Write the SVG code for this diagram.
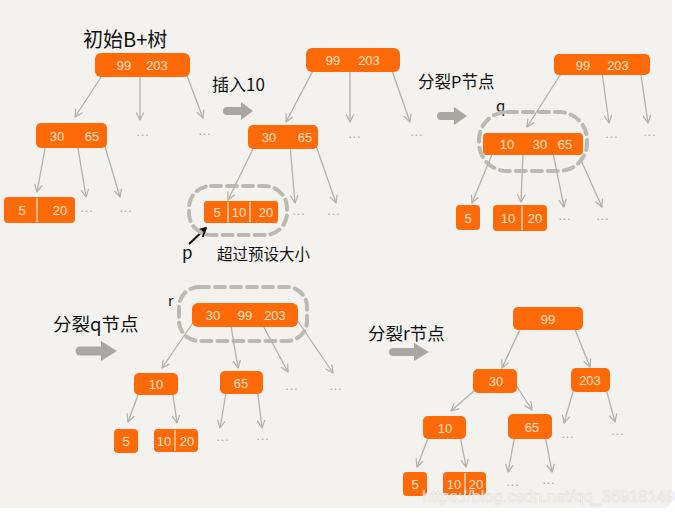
<svg xmlns="http://www.w3.org/2000/svg" width="675" height="516" viewBox="0 0 675 516">
<defs>
<marker id="ah" viewBox="0 0 10 10" refX="9" refY="5" markerWidth="9" markerHeight="9" markerUnits="userSpaceOnUse" orient="auto">
<path d="M1,1 L9,5 L1,9" fill="none" stroke="#b3b1ab" stroke-width="1.4" stroke-linecap="round" stroke-linejoin="round"/>
</marker>
<marker id="bh" viewBox="0 0 10 10" refX="9" refY="5" markerWidth="10" markerHeight="10" markerUnits="userSpaceOnUse" orient="auto">
<path d="M1,1 L9,5 L1,9" fill="none" stroke="#111" stroke-width="2" stroke-linecap="round" stroke-linejoin="round"/>
</marker>
</defs>
<style>
.n{fill:#fe6a08}
.t{font-family:"Liberation Sans","Noto Sans",sans-serif;font-size:13px;fill:#fde4cc;text-anchor:middle;dominant-baseline:central}
.d{stroke:#fde4cc;stroke-width:1.3}
.e{fill:none;stroke:#b3b1ab;stroke-width:1.3;marker-end:url(#ah)}
.dots{font-family:"Liberation Sans",sans-serif;font-size:12px;fill:#a9a7a1;text-anchor:middle;letter-spacing:1px}
.lb{font-family:"Noto Sans CJK SC","Noto Sans",sans-serif;fill:#111}
.dash{fill:none;stroke:#bcb9b2;stroke-width:4;stroke-dasharray:10 6;stroke-linecap:round}
.ga{fill:#a9a7a1}
</style>
<path d="M0,0 H672 V498 Q672,508 662,508 H0 Z" fill="#f3f2ee"/>

<!-- labels -->
<g id="labels">
<text class="lb" x="83" y="47" font-size="20">初始B+树</text>
<text class="lb" x="212" y="91" font-size="17">插入10</text>
<text class="lb" x="418" y="88" font-size="16.5">分裂P节点</text>
<text class="lb" x="496" y="112" font-size="15">q</text>
<text class="lb" x="182" y="259" font-size="17">p</text>
<text class="lb" x="217" y="260" font-size="15.5">超过预设大小</text>
<text class="lb" x="53" y="331" font-size="18.5">分裂q节点</text>
<text class="lb" x="168" y="306" font-size="14">r</text>
<text class="lb" x="368" y="340" font-size="17.5">分裂r节点</text>
<line x1="189" y1="244" x2="206" y2="228" stroke="#111" stroke-width="2" marker-end="url(#bh)"/>
</g>

<!-- big gray arrows -->
<g id="steps">
<line x1="227" y1="111" x2="243" y2="111" stroke="#a9a7a1" stroke-width="8" stroke-linecap="round"/>
<polygon class="ga" points="241,102 253,111 241,120"/>
<line x1="441" y1="116" x2="456" y2="116" stroke="#a9a7a1" stroke-width="8" stroke-linecap="round"/>
<polygon class="ga" points="454,107 467,116 454,125"/>
<line x1="80" y1="351" x2="103" y2="351" stroke="#a9a7a1" stroke-width="9" stroke-linecap="round"/>
<polygon class="ga" points="101,341 117,351 101,361"/>
<line x1="393" y1="352" x2="416" y2="352" stroke="#a9a7a1" stroke-width="8" stroke-linecap="round"/>
<polygon class="ga" points="414,343 429,352 414,361"/>
</g>

<!-- dashed highlights -->
<g id="highlights">
<rect class="dash" x="189" y="186" width="98" height="49" rx="22"/>
<rect class="dash" x="479" y="112" width="108" height="59" rx="28"/>
<rect class="dash" x="179" y="287" width="128" height="54" rx="20"/>
</g>

<!-- connectors -->
<g id="connectors">
<!-- tree 1 -->
<path class="e" d="M107,68 L75,117"/>
<path class="e" d="M140,68 L140,120"/>
<path class="e" d="M183,65 L203,118"/>
<path class="e" d="M46,143 L37,192"/>
<path class="e" d="M77,142 L86,197"/>
<path class="e" d="M103,140 L120,197"/>
<!-- tree 2 -->
<path class="e" d="M317,63 L286,122"/>
<path class="e" d="M350,67 L350,122"/>
<path class="e" d="M389,62 L410,122"/>
<path class="e" d="M255,145 L228,200"/>
<path class="e" d="M290,145 L295,203"/>
<path class="e" d="M315,143 L336,203"/>
<!-- tree 3 -->
<path class="e" d="M564,69 L527,127"/>
<path class="e" d="M602,72 L609,123"/>
<path class="e" d="M640,68 L648,123"/>
<path class="e" d="M493,152 L472,203"/>
<path class="e" d="M523,153 L521,202"/>
<path class="e" d="M553,153 L564,207"/>
<path class="e" d="M580,158 L602,207"/>
<!-- tree 4 -->
<path class="e" d="M197,317 L162,368"/>
<path class="e" d="M230,320 L238,368"/>
<path class="e" d="M260,320 L288,372"/>
<path class="e" d="M295,317 L333,373"/>
<path class="e" d="M138,395 L128,422"/>
<path class="e" d="M172,388 L177,423"/>
<path class="e" d="M227,387 L220,428"/>
<path class="e" d="M257,387 L262,428"/>
<!-- tree 5 -->
<path class="e" d="M523,323 L502,368"/>
<path class="e" d="M572,322 L590,367"/>
<path class="e" d="M475,390 L451,411"/>
<path class="e" d="M514,382 L532,410"/>
<path class="e" d="M575,385 L564,423"/>
<path class="e" d="M605,385 L615,422"/>
<path class="e" d="M430,433 L417,467"/>
<path class="e" d="M459,430 L466,467"/>
<path class="e" d="M515,435 L508,472"/>
<path class="e" d="M545,435 L552,472"/>
</g>

<!-- ellipsis -->
<g id="ellipses">
<text class="dots" x="143" y="136">...</text>
<text class="dots" x="205" y="135">...</text>
<text class="dots" x="87" y="212">...</text>
<text class="dots" x="126" y="212">...</text>
<text class="dots" x="355" y="138">...</text>
<text class="dots" x="417" y="136">...</text>
<text class="dots" x="299" y="215">...</text>
<text class="dots" x="334" y="215">...</text>
<text class="dots" x="612" y="138">...</text>
<text class="dots" x="650" y="136">...</text>
<text class="dots" x="565" y="220">...</text>
<text class="dots" x="603" y="220">...</text>
<text class="dots" x="292" y="390">...</text>
<text class="dots" x="336" y="390">...</text>
<text class="dots" x="223" y="441">...</text>
<text class="dots" x="263" y="440">...</text>
<text class="dots" x="568" y="438">...</text>
<text class="dots" x="618" y="435">...</text>
<text class="dots" x="513" y="486">...</text>
<text class="dots" x="549" y="484">...</text>
</g>

<!-- tree 1 -->
<g id="t1-root"><rect class="n" x="95" y="53" width="95" height="24" rx="6"/><text class="t" x="124" y="65">99</text><text class="t" x="157" y="65">203</text></g>
<g id="t1-n3065"><rect class="n" x="36" y="123" width="71" height="25" rx="5"/><text class="t" x="57" y="136">30</text><text class="t" x="92" y="136">65</text></g>
<g id="t1-leaf"><rect class="n" x="4" y="197" width="71" height="26" rx="4"/><line class="d" x1="37" y1="198" x2="37" y2="222"/><text class="t" x="22" y="210">5</text><text class="t" x="60" y="210">20</text></g>

<!-- tree 2 -->
<g id="t2-root"><rect class="n" x="306" y="48" width="94" height="24" rx="6"/><text class="t" x="333" y="60">99</text><text class="t" x="369" y="60">203</text></g>
<g id="t2-n3065"><rect class="n" x="248" y="125" width="70" height="24" rx="5"/><text class="t" x="269" y="137">30</text><text class="t" x="305" y="137">65</text></g>
<g id="t2-leaf"><rect class="n" x="204" y="201" width="74" height="22" rx="3"/><line class="d" x1="228" y1="202" x2="228" y2="222"/><line class="d" x1="250" y1="202" x2="250" y2="222"/><text class="t" x="217" y="212">5</text><text class="t" x="239" y="212" font-size="12">10</text><text class="t" x="266" y="212">20</text></g>

<!-- tree 3 -->
<g id="t3-root"><rect class="n" x="554" y="54" width="96" height="21" rx="5"/><text class="t" x="583" y="65">99</text><text class="t" x="618" y="65">203</text></g>
<g id="t3-q"><rect class="n" x="483" y="133" width="100" height="22" rx="4"/><text class="t" x="507" y="144">10</text><text class="t" x="540" y="144" font-size="12">30</text><text class="t" x="565" y="144">65</text></g>
<g id="t3-leaf5"><rect class="n" x="456" y="205" width="24" height="25" rx="4"/><text class="t" x="468" y="218">5</text></g>
<g id="t3-leaf1020"><rect class="n" x="493" y="205" width="54" height="26" rx="4"/><line class="d" x1="522" y1="206" x2="522" y2="230"/><text class="t" x="508" y="218">10</text><text class="t" x="535" y="218">20</text></g>

<!-- tree 4 -->
<g id="t4-r"><rect class="n" x="192" y="303" width="106" height="24" rx="6"/><text class="t" x="213" y="315">30</text><text class="t" x="245" y="315">99</text><text class="t" x="275" y="315">203</text></g>
<g id="t4-n10"><rect class="n" x="134" y="373" width="44" height="22" rx="5"/><text class="t" x="156" y="384">10</text></g>
<g id="t4-n65"><rect class="n" x="220" y="371" width="43" height="23" rx="5"/><text class="t" x="241" y="383">65</text></g>
<g id="t4-leaf5"><rect class="n" x="114" y="429" width="24" height="24" rx="4"/><text class="t" x="126" y="441">5</text></g>
<g id="t4-leaf1020"><rect class="n" x="154" y="429" width="44" height="23" rx="4"/><line class="d" x1="175" y1="430" x2="175" y2="451"/><text class="t" x="164" y="441">10</text><text class="t" x="187" y="441">20</text></g>

<!-- tree 5 -->
<g id="t5-root"><rect class="n" x="513" y="307" width="70" height="23" rx="5"/><text class="t" x="548" y="319">99</text></g>
<g id="t5-n30"><rect class="n" x="473" y="369" width="44" height="24" rx="5"/><text class="t" x="496" y="381">30</text></g>
<g id="t5-n203"><rect class="n" x="571" y="368" width="39" height="24" rx="5"/><text class="t" x="590" y="380">203</text></g>
<g id="t5-n10"><rect class="n" x="423" y="416" width="43" height="23" rx="5"/><text class="t" x="445" y="428">10</text></g>
<g id="t5-n65"><rect class="n" x="508" y="414" width="44" height="25" rx="5"/><text class="t" x="532" y="427">65</text></g>
<g id="t5-leaf5"><rect class="n" x="403" y="472" width="24" height="24" rx="4"/><text class="t" x="415" y="484">5</text></g>
<g id="t5-leaf1020"><rect class="n" x="443" y="472" width="43" height="23" rx="4"/><line class="d" x1="465" y1="473" x2="465" y2="494"/><text class="t" x="454" y="484">10</text><text class="t" x="476" y="484">20</text></g>

<text x="422" y="502" font-family="Liberation Sans,sans-serif" font-size="16.5" fill="#ffffff" fill-opacity="0.75" stroke="#c8c6c0" stroke-opacity="0.5" stroke-width="0.6">https://blog.csdn.net/qq_36918149</text>
</svg>
